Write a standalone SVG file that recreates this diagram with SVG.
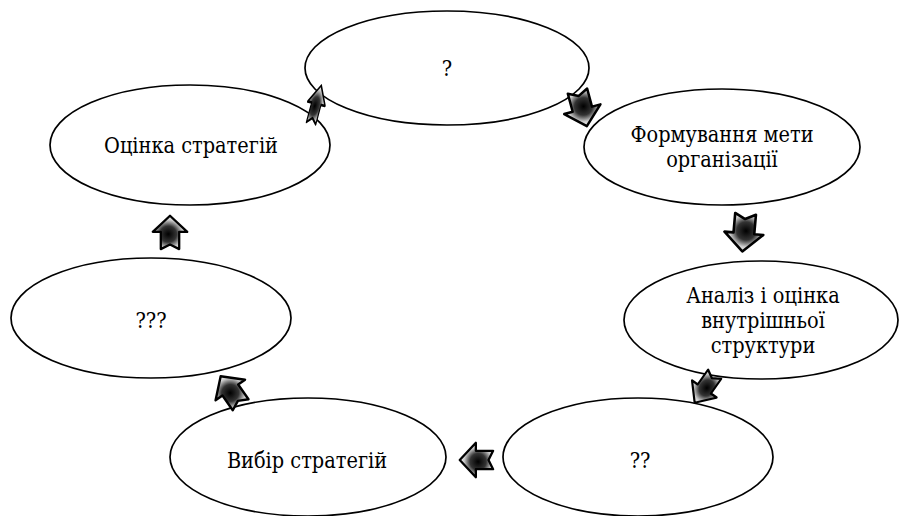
<svg xmlns="http://www.w3.org/2000/svg" width="899" height="516" viewBox="0 0 899 516">
<style>
.node ellipse{fill:#fff;stroke:#000;stroke-width:1.7}
.node text{font-family:"DejaVu Serif Condensed","DejaVu Serif",serif;font-size:21.5px;fill:#000;text-anchor:middle;dominant-baseline:central}
.arr{fill:url(#ag);stroke:#000;stroke-width:2;stroke-linejoin:round}
</style>
<defs>
<radialGradient id="ag" cx="0.45" cy="0.45" r="0.6">
<stop offset="0" stop-color="#000"/>
<stop offset="0.4" stop-color="#333"/>
<stop offset="0.7" stop-color="#ccc"/>
<stop offset="1" stop-color="#fff"/>
</radialGradient>
<path id="ba" d="M -14,-8 L 1,-8 L 1,-15 L 15,0 L 1,15 L 1,8 L -14,8 L -10,0 Z"/>
</defs>
<rect width="899" height="516" fill="#fff"/>
<g id="nodes">
<g id="n1" class="node"><ellipse cx="447" cy="68" rx="142" ry="57"/><text x="447" y="68">?</text></g>
<g id="n2" class="node"><ellipse cx="722" cy="147" rx="138" ry="58"/><text x="722" y="134">Формування мети</text><text x="722" y="159">організації</text></g>
<g id="n3" class="node"><ellipse cx="761" cy="320" rx="137" ry="59"/><text x="763" y="295">Аналіз і оцінка</text><text x="763" y="320">внутрішньої</text><text x="763" y="345">структури</text></g>
<g id="n4" class="node"><ellipse cx="638" cy="457" rx="135" ry="59"/><text x="640" y="460">??</text></g>
<g id="n5" class="node"><ellipse cx="308" cy="457" rx="138" ry="59"/><text x="307" y="460">Вибір стратегій</text></g>
<g id="n6" class="node"><ellipse cx="151" cy="318" rx="140" ry="60"/><text x="151" y="320">???</text></g>
<g id="n7" class="node"><ellipse cx="190" cy="145" rx="140" ry="60"/><text x="191" y="145">Оцінка стратегій</text></g>
</g>
<g id="connectors">
<use href="#ba" class="arr" transform="translate(316,105) rotate(-75) scale(1.35,0.6)"/>
<use href="#ba" class="arr" transform="translate(582,108) rotate(75) scale(1.25)"/>
<use href="#ba" class="arr" transform="translate(744,232) rotate(95) scale(1.3)"/>
<use href="#ba" class="arr" transform="translate(705,388) rotate(125) scale(1.2,1)"/>
<use href="#ba" class="arr" transform="translate(477,460) rotate(180) scale(1.15)"/>
<use href="#ba" class="arr" transform="translate(231,391) rotate(-125) scale(1.2)"/>
<use href="#ba" class="arr" transform="translate(170,233) rotate(-90) scale(1.15)"/>
</g>
</svg>
